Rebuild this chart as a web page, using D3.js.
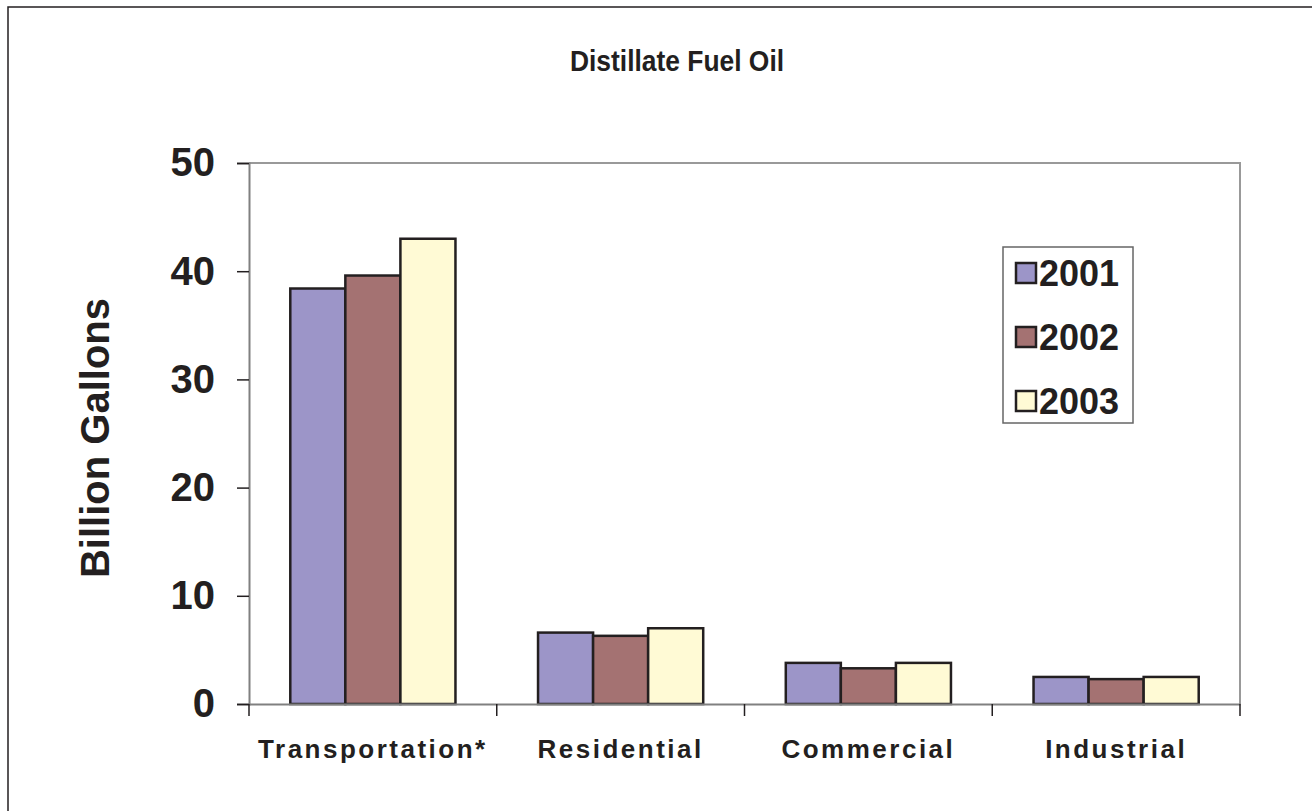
<!DOCTYPE html>
<html>
<head>
<meta charset="utf-8">
<script src="https://cdn.jsdelivr.net/npm/d3@7"></script>
<style>
  body { margin: 0; background: #fff; }
  text { font-family: "Liberation Sans", Arial, sans-serif; font-weight: bold; fill: #231f20; }
</style>
</head>
<body>
<div id="chart"></div>
<script>
// data
var categories = ["Transportation*", "Residential", "Commercial", "Industrial"];
var years = ["2001", "2002", "2003"];
var v2001 = [38.4, 6.6, 3.8, 2.5];
var v2002 = [39.6, 6.3, 3.3, 2.3];
var v2003 = [43.0, 7.0, 3.8, 2.5];
var yTicks = [0, 10, 20, 30, 40, 50];
var colors = ["#9c95c8", "#a47272", "#fffad5"];

var series = [v2001, v2002, v2003];
var rows = categories.map(function(c, i) {
  return { cat: c, vals: years.map(function(y, j) { return { year: y, v: series[j][i] }; }) };
});

var W = 1312, H = 811;
var plot = { left: 249, top: 163, right: 1240, bottom: 704 };

var svg = d3.select("#chart").append("svg")
    .attr("width", W)
    .attr("height", H);

// outer frame (only top and left visible)
svg.append("rect")
    .attr("x", 8).attr("y", 7)
    .attr("width", W + 20).attr("height", H + 20)
    .attr("fill", "none")
    .attr("stroke", "#231f20")
    .attr("stroke-width", 1.5);

// title is a bit condensed in the original
svg.append("text")
    .attr("transform", "translate(677,71) scale(0.88,1)")
    .attr("text-anchor", "middle")
    .attr("font-size", "30px")
    .text("Distillate Fuel Oil");

// Excel style gap 150%: group of 3 bars inside each category band
var x0 = d3.scaleBand().domain(categories).range([plot.left, plot.right]);
var groupW = x0.bandwidth() / 4.5 * 3;
var x1 = d3.scaleBand().domain(years).range([0, groupW]);

var y = d3.scaleLinear().domain([0, 50]).range([plot.bottom, plot.top]);

// plot area border (top & right)
svg.append("path")
    .attr("d", "M" + plot.left + "," + plot.top + "H" + plot.right + "V" + plot.bottom)
    .attr("fill", "none")
    .attr("stroke", "#999")
    .attr("stroke-width", 2);

// y axis
var yAxis = svg.append("g")
    .attr("transform", "translate(" + plot.left + ",0)")
    .call(d3.axisLeft(y).tickValues(yTicks).tickSize(12).tickPadding(22));
yAxis.select(".domain").attr("stroke", "#808080").attr("stroke-width", 2);
yAxis.selectAll(".tick line").attr("stroke", "#231f20").attr("stroke-width", 1.5);
yAxis.selectAll(".tick text")
    .attr("font-size", "40px")
    .attr("font-family", "Liberation Sans, Arial, sans-serif")
    .attr("font-weight", "bold")
    .attr("fill", "#231f20");

svg.append("text")
    .attr("transform", "translate(109,438) rotate(-90)")
    .attr("text-anchor", "middle")
    .attr("font-size", "40px")
    .text("Billion Gallons");

// bars
var groups = svg.selectAll(".grp")
    .data(rows)
    .enter().append("g")
    .attr("class", "grp")
    .attr("transform", function(d) {
      return "translate(" + (x0(d.cat) + (x0.bandwidth() - groupW) / 2) + ",0)";
    });

groups.selectAll("rect")
    .data(function(d) { return d.vals; })
    .enter().append("rect")
    .attr("x", function(d) { return x1(d.year); })
    .attr("y", function(d) { return y(d.v); })
    .attr("width", x1.bandwidth())
    .attr("height", function(d) { return y(0) - y(d.v); })
    .attr("fill", function(d, i) { return colors[i]; })
    .attr("stroke", "#231f20")
    .attr("stroke-width", 2.5);

// x axis
var xAxis = svg.append("g")
    .attr("transform", "translate(0," + plot.bottom + ")")
    .call(d3.axisBottom(x0).tickSize(0).tickPadding(36));
xAxis.select(".domain").attr("stroke", "#808080").attr("stroke-width", 2);
xAxis.selectAll(".tick text")
    .attr("font-size", "26px")
    .attr("letter-spacing", "2.5px")
    .attr("font-family", "Liberation Sans, Arial, sans-serif")
    .attr("font-weight", "bold")
    .attr("fill", "#231f20");
// category boundary ticks
var bounds = categories.map(function(c) { return x0(c); }).concat([plot.right]);
xAxis.selectAll(".bnd")
    .data(bounds)
    .enter().append("line")
    .attr("class", "bnd")
    .attr("x1", function(d) { return d; })
    .attr("x2", function(d) { return d; })
    .attr("y1", 0).attr("y2", 12)
    .attr("stroke", "#231f20")
    .attr("stroke-width", 1.5);

// legend
var legend = svg.append("g").attr("transform", "translate(1003,247)");
legend.append("rect")
    .attr("width", 130).attr("height", 176)
    .attr("fill", "#fff")
    .attr("stroke", "#666")
    .attr("stroke-width", 1.5);
var li = legend.selectAll(".li")
    .data(years)
    .enter().append("g")
    .attr("class", "li")
    .attr("transform", function(d, i) { return "translate(0," + (26 + i * 64) + ")"; });
li.append("rect")
    .attr("x", 13).attr("y", -10)
    .attr("width", 20).attr("height", 20)
    .attr("fill", function(d, i) { return colors[i]; })
    .attr("stroke", "#231f20")
    .attr("stroke-width", 2.5);
li.append("text")
    .attr("x", 36).attr("y", 13)
    .attr("font-size", "36px")
    .text(function(d) { return d; });
</script>
</body>
</html>
